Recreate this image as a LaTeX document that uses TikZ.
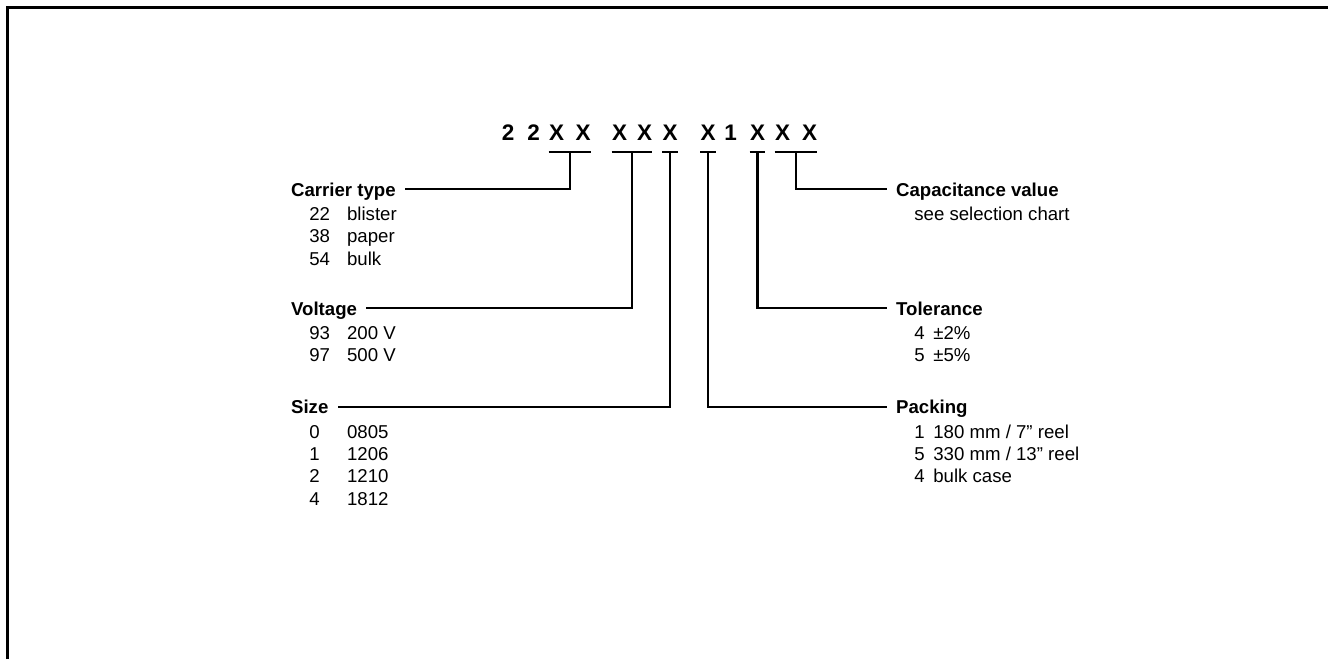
\documentclass[tikz,border=0pt]{standalone}
\usepackage{fontspec}
\setmainfont{Liberation Sans}
\usetikzlibrary{calc}
\tikzstyle{lbl}=[font=\fontsize{10.6}{12.75}\selectfont\bfseries,inner xsep=5pt,inner ysep=0pt,text height=7.6pt,text depth=0pt,anchor=base west]
\tikzstyle{code}=[font=\fontsize{12.8}{15}\selectfont\bfseries,inner sep=0pt,anchor=base]
\tikzstyle{lst}=[font=\fontsize{10.6}{12.75}\selectfont,inner sep=0pt,anchor=base west]
\tikzstyle{lead}=[line width=1.3pt]
\newcommand{\codelist}[2]{\begin{tabular}[t]{@{}p{#1}@{}l@{}}#2\end{tabular}}

\begin{document}
\begin{tikzpicture}[x=0.02cm,y=-0.02cm]
  \useasboundingbox(0,0)rectangle(1328,659);
  \draw[line width=1.3pt](7.5,659)|-(1328,7.5);
  \foreach \c/\x [count=\i] in {2/508,2/533.5,X/556.5,X/583,X/619.5,X/644.5,X/670,X/708,1/730.5,X/757.5,X/782.5,X/809.5}
    \node[code](c\i)at(\x,140){\c};
  \foreach \a/\b/\n in {3/4/1,5/6/2,7/7/3,8/8/4,10/10/5,11/12/6}{
    \draw[lead]([yshift=-6.8pt]c\a.base west)--([yshift=-6.8pt]c\b.base east);
    \coordinate(u\n)at($(c\a.base west)!.5!(c\b.base east)+(0,12)$);
  }
  \node[lbl](carrier)at(282,196){Carrier type};
  \node[lbl](voltage)at(282,315){Voltage};
  \node[lbl](size)at(282,413.4){Size};
  \node[lbl](cap)at(887,196){Capacitance value};
  \node[lbl](tol)at(887,315){Tolerance};
  \node[lbl](pack)at(887,413.4){Packing};
  \node[lst](carrierlist)at(309,220.5){\codelist{21.5pt}{22&blister\\38&paper\\54&bulk}};
  \node[lst](voltagelist)at(309,339.5){\codelist{21.5pt}{93&200 V\\97&500 V}};
  \node[lst](sizelist)at(309,438){\codelist{21.5pt}{0&0805\\1&1206\\2&1210\\4&1812}};
  \node[lst](caplist)at(914,220.5){see selection chart};
  \node[lst](tollist)at(914,339.5){\codelist{10.8pt}{4&±2\%\\5&±5\%}};
  \node[lst](packlist)at(914,438){\codelist{10.8pt}{1&180 mm / 7” reel\\5&330 mm / 13” reel\\4&bulk case}};
  \draw[lead](u1)|-(carrier.east);
  \draw[lead](u2)|-(voltage.east);
  \draw[lead](u3)|-(size.east);
  \draw[lead](u4)|-(pack.west);
  \draw[lead](u5)|-(tol.west);
  \draw[lead](u6)|-(cap.west);
\end{tikzpicture}
\end{document}
